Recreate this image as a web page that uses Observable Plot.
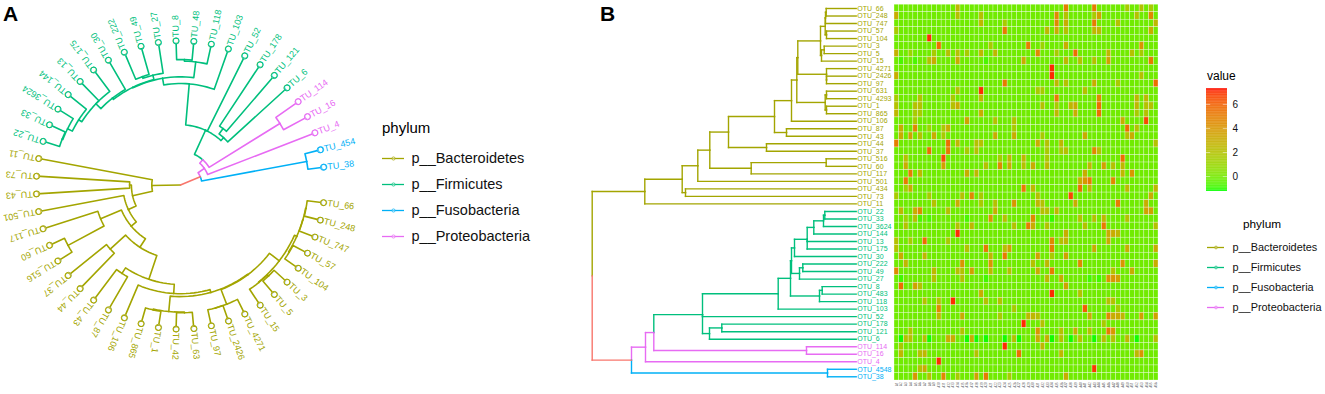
<!DOCTYPE html>
<html><head><meta charset="utf-8">
<script src="https://cdn.jsdelivr.net/npm/d3@7"></script>
<script src="https://cdn.jsdelivr.net/npm/@observablehq/plot@0.6"></script>
<style>
html,body{margin:0;padding:0;background:#fff}
#c{position:relative;width:1325px;height:394px;overflow:hidden;background:#fff;font-family:"Liberation Sans",Arial,sans-serif}
.tag{position:absolute;font:bold 21px "Liberation Sans",Arial,sans-serif;color:#000;line-height:21px}
</style></head><body><div id="c"></div>
<script>
const phyla=["p__Bacteroidetes","p__Firmicutes","p__Fusobacteria","p__Proteobacteria"];
const phylaColors=["#A3A500","#00BF7D","#00B0F6","#E76BF3"];
const rootGroup="root", rootColor="#F8766D";
const bacteroidetesTips=["66","248","747","57","104","3","5","15","4271","2426","97","631","4293","1","865","106","87","43","44","37","516","60","117","501","434","73","11"];
const firmicutesTips=["22","33","3624","144","13","175","30","222","49","27","8","483","118","103","52","178","121","6"];
const proteobacteriaTips=["114","16","4"];
const fusobacteriaTips=["4548","38"];
// labels of panel A that the reference shows shortened
const fanShownLabels=new Map([["631","OTU_63"],["4293","OTU_42"],["483","OTU_48"],["4548","OTU_454"],["434","OTU_43"]]);
// cladogram: [branching depth, ...children], a string is a tip
const bacteroidetesClade=[52.6,[90,[105.6,[117.6,[136.3,[182.3,[199.3,[204.6,[205.6,[228.3,[233,[233.3,[234,"66","248"],"747"],[234.3,"57","104"]],[229.3,[232,"3","5"],"15"]],[234.3,"4271",[234.3,"2426","97"]]],[233,[234.3,"631","4293"],[234.3,"1","865"]]],"106"],[194.3,"87","43"]],[174.3,"44","37"]],[159,[234,"516","60"],"117"]],"501"],[93.3,"434","73"]],"11"];
const firmicutesClade=[110.3,[186,[198.3,[199.3,[202.3,[215,[221.6,[231.3,[232.6,"22","33"],"3624"],"144"],"13","175"],"30"],[207.3,[210.6,"222","49"],"27"]],[227.3,[230,"8","483"],"118"]],"103"],"52",[117.3,[129.6,"178","121"],"6"]];
const otherClade=[39.3,[53.3,[61.6,firmicutesClade,[214.3,"114","16"]],"4"],[235.3,"4548","38"]];
const treeSpec=[0,bacteroidetesClade,otherClade];
const tipDepth=264;
const sampleNames=Array.from({length:56},(_,i)=>"A"+(i+1));
const baseValue=-0.15;
// per OTU row (same order as the tips): [sample column, value] for the cells that stand out
const heatRows=[
[[13,2.5],[36,5],[42,5],[49,1.5],[52,2],[54,1.5]],
[[0,3],[13,2],[18,2],[34,4.5],[36,2],[42,1.5],[43,3.5],[51,2],[54,4.5]],
[[18,2.5],[23,1.5],[34,4.5],[36,3],[42,5],[47,2],[55,2.5]],
[[0,1.5],[23,5],[32,2.5],[34,3],[36,2],[42,2.5],[43,2.5],[54,3]],
[[7,7]],
[[9,5.5],[20,1.5],[28,5],[31,1],[36,3],[52,4]],
[[0,2.8],[3,1],[8,1.5],[11,2],[13,2],[15,1.5],[18,2.5],[21,2.5],[30,4.5],[34,1.5],[38,5.5],[45,2.5],[50,2],[52,1.5]],
[[1,-.8],[4,-.8],[7,2],[8,3],[13,3],[19,-.8],[27,3],[36,2.5],[39,2],[42,2],[45,3.5],[54,5]],
[[33,7]],
[[0,3],[33,7],[52,2]],
[[23,5],[34,2.5],[36,2],[42,3],[47,1.5],[55,5.5]],
[[13,2],[18,7],[30,1.5],[31,1.5],[40,2]],
[[0,1.5],[5,2],[12,1.5],[18,2.5],[34,5],[43,4.5],[51,2.5],[53,2.5]],
[[0,2],[4,2],[5,2],[12,2],[13,3],[31,2],[34,1.5],[37,2.5],[38,3],[43,5.5],[51,2.5],[53,2],[54,2]],
[[0,2.5],[4,1.5],[5,1.5],[18,3],[34,2.5],[38,3],[43,5.5],[51,1.5],[53,2]],
[[4,1.5],[15,3.5],[21,2],[25,2],[48,3],[53,6.5]],
[[1,3],[4,4.5],[7,1],[10,1.5],[11,3],[25,1.5],[49,5.5],[51,2]],
[[1,3],[3,3.5],[5,2],[8,3],[10,1.5],[21,3],[25,3],[31,1.5],[40,3],[49,2],[50,3]],
[[0,5],[11,5.5],[13,2.5],[17,2],[18,2],[30,3],[32,2],[35,2.5],[55,2]],
[[7,5.5],[11,5],[15,1.5],[17,2],[32,1.5],[35,1.5],[36,2],[42,4.5],[43,2]],
[[2,2],[10,6.5],[22,1.5],[24,2.5],[27,2.5],[32,1.5],[48,5.5]],
[[2,3],[10,3.5],[19,2],[22,4.5],[24,3],[27,2],[29,3],[32,2.5],[41,2.5],[44,3.5],[46,2],[48,2.5]],
[[3,5],[5,2.5],[15,3],[17,2.5],[40,3],[48,2.5],[50,4]],
[[2,5],[39,3],[40,4],[41,5],[46,4.5]],
[[2,1],[3,3],[27,5],[29,2.5],[39,5.5],[41,2.5],[49,2.5],[55,2.5]],
[[0,1.5],[7,1.5],[14,2],[16,4.5],[18,1.5],[30,2],[37,6.5],[54,3]],
[[8,2],[13,3],[18,1.5],[21,2],[25,4],[30,2.5],[31,2],[38,3],[47,5],[53,3]],
[[1,2.5],[4,3],[5,4.5],[11,2],[21,3],[31,2],[32,2],[34,2.5],[53,3.5],[54,3.5]],
[[2,1],[4,2],[5,-.8],[7,-.8],[15,-.8],[20,4],[23,2],[29,4.5],[33,-1],[39,2],[42,2],[44,2.5],[49,2]],
[[2,2],[13,2],[16,2.5],[25,2],[28,5],[29,3],[32,2],[40,2],[44,5],[55,2]],
[[13,7],[36,3],[45,3],[46,3],[47,2.5]],
[[0,2],[3,1.5],[6,5.5],[11,1.5],[33,4.5],[35,2],[36,2.5],[45,3]],
[[0,2],[15,2],[19,5],[23,2],[24,3.5],[33,5],[42,3],[49,3],[55,3]],
[[1,3],[6,2.5],[20,2.5],[23,5],[30,3.5],[33,1.5],[36,3.5]],
[[2,2.5],[14,4],[20,4],[29,2],[32,2.5],[39,4.5],[48,4],[55,3]],
[[0,4.5],[8,2.5],[13,2],[14,2],[16,3.5],[20,2.5],[24,2],[30,3],[33,5],[46,2],[50,3]],
[[1,-.9],[8,2],[14,2],[19,-.9],[32,2.5],[35,3],[41,-.9],[43,-.9],[45,4],[46,4],[47,3.5]],
[[1,5.5],[4,3.5],[5,2],[36,3.5]],
[[18,3],[33,7],[39,2]],
[[6,2],[9,2],[12,7],[19,2],[22,2],[45,2],[46,2]],
[[9,4.5],[25,1.5],[40,6],[47,1.5]],
[[9,2.5],[14,3],[22,1.5],[28,2.5],[29,2.5],[30,2],[41,3],[45,4.5],[46,3],[47,3],[48,2.5],[52,3.5],[55,3.5]],
[[27,7],[31,2],[44,1.5]],
[[3,2],[14,2],[30,4],[35,2],[38,3],[41,2],[45,5],[46,4]],
[[1,-1.2],[2,2],[3,2],[6,2],[7,-1.2],[11,3],[12,3],[15,-1.2],[16,3],[17,-1.2],[19,-1.2],[23,-1.2],[25,2],[26,-1.2],[30,3],[32,3],[33,-1.2],[35,2],[37,-1.2],[39,2],[42,-1.2],[44,2],[46,2],[49,2.5],[51,-1.2],[55,2]],
[[1,1.5],[23,7],[31,2.5]],
[[1,2.5],[5,2],[6,2.5],[17,2],[26,5.5],[35,2.5],[51,2.5],[52,4]],
[[9,7]],
[[5,2],[6,3],[42,6.8]],
[[4,4],[7,2],[10,4.5],[13,1.5],[17,3.5],[19,5],[24,1.5],[36,3]]
];

const tipNames=[...bacteroidetesTips,...firmicutesTips,...proteobacteriaTips,...fusobacteriaTips];
const label=t=>"OTU_"+t;
const tipPhylum=new Map();
bacteroidetesTips.forEach(t=>tipPhylum.set(t,phyla[0]));
firmicutesTips.forEach(t=>tipPhylum.set(t,phyla[1]));
fusobacteriaTips.forEach(t=>tipPhylum.set(t,phyla[2]));
proteobacteriaTips.forEach(t=>tipPhylum.set(t,phyla[3]));
const colorScale={domain:[...phyla,rootGroup],range:[...phylaColors,rootColor]};

// lay the tree out
let tipIndex=0;
function build(spec){
  if(typeof spec==="string"){const i=tipIndex++;return {name:spec,depth:tipDepth,pos:i,groups:new Set([tipPhylum.get(spec)]),children:[]};}
  const children=spec.slice(1).map(build);
  const groups=new Set(children.flatMap(c=>[...c.groups]));
  return {depth:spec[0],pos:d3.mean(children,c=>c.pos),groups,children};
}
const tree=build(treeSpec);
const groupOf=n=>{
  if(n.groups.size===1) return [...n.groups][0];
  return (n.groups.has(phyla[0])||n.groups.has(phyla[2]))?rootGroup:phyla[3];
};
const edges=[];
(function walk(n){n.children.forEach(c=>{edges.push({px:n.depth,py:n.pos,cx:c.depth,cy:c.pos,group:groupOf(c)});walk(c);});})(tree);
edges.sort((a,b)=>(a.group===rootGroup)-(b.group===rootGroup));

const c=document.getElementById("c");
function put(el,left,top){el.style.position="absolute";el.style.left=left+"px";el.style.top=top+"px";c.appendChild(el);}
function tag(t,left,top){const d=document.createElement("div");d.className="tag";d.textContent=t;d.style.left=left+"px";d.style.top=top+"px";c.appendChild(d);}

// Panel A: circular cladogram
const slot=360/(tipNames.length+1);
const theta=p=>(p+1)*slot*Math.PI/180;
const k=tipDepth/144;
const polar=(r,p)=>({x:r*Math.cos(theta(p)),y:r*Math.sin(theta(p))});
const fanLines=[];
edges.forEach((e,id)=>{
  const n=Math.max(2,Math.ceil(Math.abs(e.cy-e.py)*3));
  for(let i=0;i<=n;i++) fanLines.push({id,group:e.group,...polar(e.px,e.py+(e.cy-e.py)*i/n)});
  fanLines.push({id,group:e.group,...polar(e.cx,e.cy)});
});
const fanTips=tipNames.map((t,i)=>({name:fanShownLabels.get(t)||label(t),group:tipPhylum.get(t),deg:(i+1)*slot,...polar(tipDepth,i),lx:polar(tipDepth-3*k,i).x,ly:polar(tipDepth-3*k,i).y}));
const fan=Plot.plot({width:375,height:380,margin:0,
  x:{domain:[-180*k,195*k],range:[0,375],axis:null},
  y:{domain:[-184.5*k,195.5*k],range:[0,380],axis:null},
  color:colorScale,
  marks:[
    Plot.line(fanLines,{x:"x",y:"y",z:"id",stroke:"group",strokeWidth:1.6,curve:"linear"}),
    Plot.dot(fanTips,{x:"x",y:"y",r:3,stroke:"group",fill:"white",strokeWidth:0.9}),
    Plot.text(fanTips,{x:"lx",y:"ly",text:"name",rotate:"deg",fill:"group",fontSize:9,textAnchor:"start",fontFamily:"Liberation Sans"})
  ]});
put(fan,0,0);

// Panel B: rectangular cladogram
const rowStep=7.516;
const rectSegs=[];
edges.forEach(e=>{rectSegs.push({x1:e.px,y1:e.py,x2:e.px,y2:e.cy,group:e.group});rectSegs.push({x1:e.px,y1:e.cy,x2:e.cx,y2:e.cy,group:e.group});});
const rectTips=tipNames.map((t,i)=>({name:label(t),pos:i,group:tipPhylum.get(t)}));
const dendro=Plot.plot({width:304,height:394,margin:0,
  x:{domain:[-1.7,302.3],range:[0,304],axis:null},
  y:{domain:[-8/rowStep,(394-8)/rowStep],range:[0,394],axis:null},
  color:colorScale,
  marks:[
    Plot.link(rectSegs,{x1:"x1",y1:"y1",x2:"x2",y2:"y2",stroke:"group",strokeWidth:1.4,strokeLinecap:"square"}),
    Plot.text(rectTips,{x:()=>tipDepth+1,y:"pos",text:"name",fill:"group",fontSize:7,textAnchor:"start",fontFamily:"Liberation Sans"})
  ]});
put(dendro,590,0);

// Heatmap
const heatTable=[];
tipNames.forEach((t,r)=>{
  const m=new Map(heatRows[r]);
  sampleNames.forEach((s,col)=>heatTable.push({otu:t,sample:s,value:m.has(col)?m.get(col):baseValue}));
});
const fillScale={type:"linear",domain:[-1.24,7.32],range:["#00FF00","#FF0000"],interpolate:d3.interpolateLab};
const heat=Plot.plot({width:270,height:394,marginLeft:0,marginRight:6,marginTop:4.2,marginBottom:14,
  x:{domain:sampleNames,padding:0,round:false,axis:null},
  y:{domain:tipNames,padding:0,round:false,axis:null},
  color:fillScale,
  marks:[
    Plot.cell(heatTable,{x:"sample",y:"otu",fill:"value",stroke:"white",strokeWidth:0.5,strokeOpacity:0.6}),
    Plot.axisX({anchor:"bottom",tickSize:0,tickRotate:-90,fontSize:2.8,tickPadding:2,label:null,fill:"#333"})
  ]});
put(heat,894,0);

// Colour bar
const barValues=d3.range(-1.24,7.32,0.06);
const barTicks=[0,2,4,6];
const bar=Plot.plot({width:60,height:103,margin:0,
  x:{domain:[0,60],range:[0,60],axis:null},
  y:{domain:[-1.24,7.32],range:[103,0],axis:null},
  color:fillScale,
  marks:[
    Plot.rect(barValues,{x1:()=>0,x2:()=>21,y1:d=>d,y2:d=>d+0.07,fill:d=>d}),
    Plot.ruleY(barTicks,{x1:()=>0,x2:()=>4.2,stroke:"white",strokeOpacity:.8,strokeWidth:.6}),
    Plot.ruleY(barTicks,{x1:()=>16.8,x2:()=>21,stroke:"white",strokeOpacity:.8,strokeWidth:.6}),
    Plot.text(barTicks,{x:()=>26,y:d=>d,text:d=>String(d),textAnchor:"start",fontSize:10,fill:"#111",fontFamily:"Liberation Sans"})
  ]});
put(bar,1205.5,88);
const valT=document.createElement("div");valT.textContent="value";valT.style.cssText="position:absolute;left:1207px;top:69px;font-size:12px;line-height:14px;color:#000";c.appendChild(valT);

// Legends
function legend(left,top,w,h,keyW,gap,fs,titleFs,titleX,titleY,o){
  const plot=Plot.plot({width:w,height:h,margin:0,
    x:{domain:[0,w],range:[0,w],axis:null},
    y:{domain:phyla,type:"point",padding:0,range:[titleY+o.first,titleY+o.first+3*o.step],axis:null},
    color:{domain:phyla,range:phylaColors},
    marks:[
      Plot.ruleY(phyla,{x1:()=>0,x2:()=>keyW,y:d=>d,stroke:d=>d,strokeWidth:o.w}),
      Plot.dot(phyla,{x:()=>keyW/2,y:d=>d,r:o.r,stroke:d=>d,fill:"white",fillOpacity:.4,strokeWidth:.7}),
      Plot.text(phyla,{x:()=>keyW+gap,y:d=>d,text:d=>d,textAnchor:"start",fontSize:fs,fill:"#111",fontFamily:"Liberation Sans"})
    ]});
  put(plot,left,top);
  const t=document.createElement("div");t.textContent="phylum";
  t.style.cssText=`position:absolute;left:${left+titleX}px;top:${top+titleY-titleFs*0.6}px;font-size:${titleFs}px;line-height:${titleFs*1.2}px;color:#000`;
  c.appendChild(t);
}
legend(382,118,170,130,22,7,14.5,15,0,10,{first:30,step:26.3,w:1.3,r:1.6});
legend(1207,214,118,105,17,8,10.9,11.8,36,10,{first:21.7,step:20.9,w:1.3,r:1.4});

tag("A",3,3);tag("B",600,3);
</script></body></html>
